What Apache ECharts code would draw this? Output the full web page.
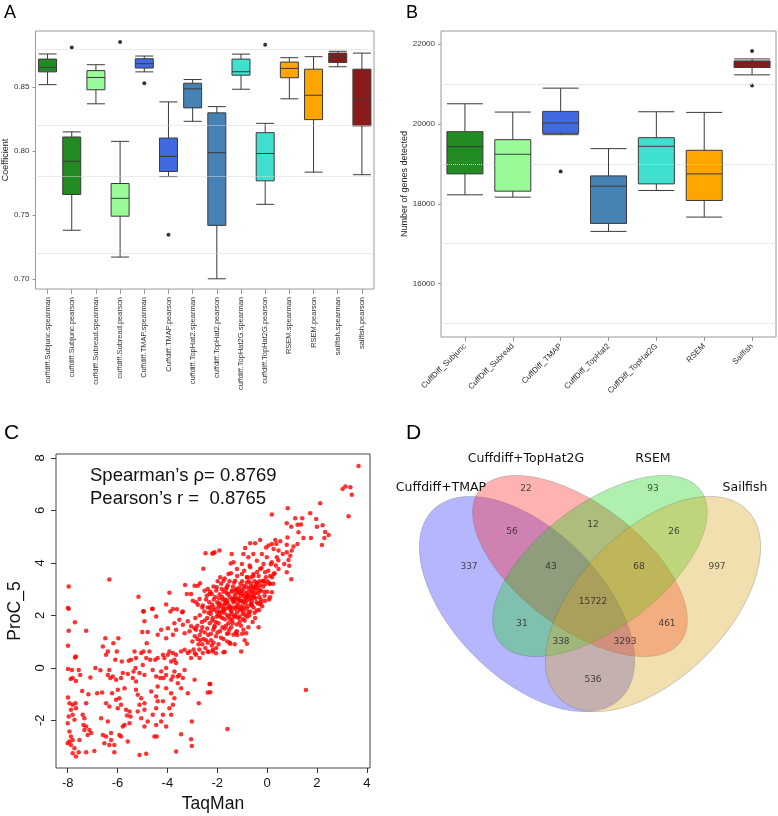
<!DOCTYPE html>
<html><head><meta charset="utf-8">
<script src="https://cdn.jsdelivr.net/npm/echarts@6/dist/echarts.min.js"></script>
<style>html,body{margin:0;padding:0;background:#fff}#c{width:778px;height:816px}</style>
</head><body><div id="c"></div>
<script>
// ---------- Panel A data ----------
const coefCategories = ['cuffdiff.Subjunc.spearman','cuffdiff.Subjunc.pearson','cuffdiff.Subread.spearman','cuffdiff.Subread.pearson','Cuffdiff.TMAP.spearman','Cuffdiff.TMAP.pearson','cuffdiff.TopHat2.spearman','cuffdiff.TopHat2.pearson','cuffdiff.TopHat2G.spearman','cuffdiff.TopHat2G.pearson','RSEM.spearman','RSEM.pearson','sailfish.spearman','sailfish.pearson'];
// [min, Q1, median, Q3, max]
const coefBoxes = [
  [0.852,0.862,0.8655,0.872,0.876],
  [0.738,0.766,0.792,0.811,0.815],
  [0.837,0.848,0.8576,0.863,0.8676],
  [0.717,0.749,0.763,0.7746,0.8076],
  [0.862,0.865,0.8684,0.8723,0.8744],
  [0.780,0.784,0.7958,0.8102,0.8385],
  [0.8233,0.8338,0.8487,0.8531,0.856],
  [0.700,0.7418,0.7987,0.8299,0.8348],
  [0.8484,0.8594,0.8621,0.872,0.8759],
  [0.7583,0.7767,0.7981,0.8144,0.8217],
  [0.8409,0.8574,0.8647,0.8697,0.8731],
  [0.7835,0.8246,0.8437,0.8641,0.8739],
  [0.866,0.8694,0.8736,0.8767,0.8781],
  [0.7815,0.8197,0.8406,0.8641,0.8767]
];
const coefOutliers = [['cuffdiff.Subjunc.pearson',0.881],['cuffdiff.Subread.pearson',0.8854],['Cuffdiff.TMAP.spearman',0.8531],['Cuffdiff.TMAP.pearson',0.7345],['cuffdiff.TopHat2G.pearson',0.8833]];
const coefTicks = [0.70,0.75,0.80,0.85];
const coefGrid = [0.725,0.775,0.825,0.875];

// ---------- Panel B data ----------
const geneCategories = ['CuffDiff_Subjunc','CuffDiff_Subread','CuffDiff_TMAP','CuffDiff_TopHat2','CuffDiff_TopHat2G','RSEM','Sailfish'];
const geneBoxes = [
  [18225,18750,19433,19808,20508],
  [18167,18317,19242,19608,20300],
  [19733,19767,20025,20317,20900],
  [17308,17508,18442,18700,19383],
  [18333,18500,19442,19658,20308],
  [17667,18083,18750,19342,20292],
  [21233,21417,21517,21583,21633]
];
const geneOutliers = [['CuffDiff_TMAP',18808],['Sailfish',21833],['Sailfish',20967]];
const geneTicks = [16000,18000,20000,22000];
const geneGrid = [15000,17000,19000,21000];

// ---------- Panel C data (TaqMan, ProC_5) ----------
const xTicksC = [-8,-6,-4,-2,0,2,4];
const yTicksC = [-2,0,2,4,6,8];
const scatterPoints = [
[-7.96,2.25],[-4.96,2.15],[-4.61,2.24],[-4.92,1.77],[-4.45,1.96],[-3.88,2.15],[-3.41,2.12],[-3.52,1.83],[-3.72,1.7],[-3.65,1.45],
[-3.98,1.51],[-4.25,1.45],[-4.39,1.26],[-4.05,1.13],[-3.78,1.26],[-3.38,1.64],[-3.18,1.77],[-3.05,1.58],[-3.11,1.39],[-3.31,1.32],
[-2.91,1.51],[-7.71,1.74],[-7.96,1.41],[-7.26,1.41],[-7.99,0.84],[-7.71,0.39],[-7.67,0.43],[-6.49,1.13],[-5.97,1.13],[-6.17,0.94],
[-6.59,0.81],[-6.39,0.62],[-6.03,0.62],[-6.09,0.31],[-6.46,0.5],[-5.01,1.36],[-4.79,1.36],[-4.83,0.94],[-4.96,0.62],[-4.85,0.37],
[-4.72,0.62],[-5.32,0.62],[-5.26,0.37],[-5.46,0.31],[-5.55,0.27],[-5.83,0.24],[-5.05,0.56],[-4.99,0.11],[-5.28,-0.01],[-5.36,-0.14],
[-5.12,-0.2],[-4.92,-0.27],[-5.39,-0.39],[-4.69,0.31],[-4.59,-0.08],[-4.49,0.31],[-4.39,0.37],[-4.45,-0.33],[-4.18,0.5],[-4.12,0.37],
[-3.98,0.5],[-4.05,-0.01],[-4.25,-0.14],[-4.29,-0.39],[-4.16,-0.39],[-4.05,-0.27],[-3.92,0.62],[-3.78,0.56],[-3.65,0.5],[-3.72,0.31],
[-3.45,0.62],[-3.31,0.69],[-3.18,0.56],[-3.11,0.62],[-3.05,0.37],[-2.85,0.5],[-2.71,0.37],[-2.58,0.56],[-2.38,0.62],[-2.18,0.69],
[-3.85,0.24],[-3.65,0.18],[-3.72,-0.14],[-3.78,-0.33],[-3.85,-0.46],[-3.58,-0.33],[-3.52,-0.27],[-3.31,-0.08],[-3.38,-0.39],[-3.58,-0.59],
[-3.45,-0.78],[-3.18,-0.97],[-2.91,-0.46],[-2.74,-1.35],[-2.31,-0.62],[-2.38,-0.94],[-7.99,-0.05],[-7.83,-0.08],[-7.56,-0.08],[-7.5,-0.27],
[-7.8,-0.39],[-7.67,-0.5],[-7.88,-0.43],[-7.09,-0.37],[-6.89,-0.01],[-6.69,-0.09],[-6.33,-0.08],[-6.39,-0.27],[-6.29,-0.39],[-6.19,-0.33],
[-6.06,-0.46],[-5.86,-0.39],[-5.79,-0.2],[-5.59,-0.24],[-7.42,-0.88],[-7.17,-1.01],[-7.26,-1.35],[-6.82,-0.97],[-6.62,-0.94],[-6.22,-0.97],
[-5.99,-0.84],[-5.72,-0.78],[-5.93,-1.16],[-6.06,-1.22],[-6.46,-1.35],[-6.33,-1.48],[-5.99,-1.54],[-5.86,-1.41],[-5.66,-1.6],[-5.52,-1.67],
[-5.62,-1.82],[-5.48,-1.86],[-5.52,-2.11],[-5.26,-0.52],[-5.26,-0.84],[-5.19,-1.03],[-5.05,-1.16],[-5.12,-1.41],[-4.92,-1.35],[-4.92,-1.6],
[-5.19,-1.67],[-5.05,-1.92],[-4.79,-2.05],[-4.59,-1.79],[-4.45,-1.54],[-4.39,-1.28],[-4.18,-1.28],[-4.45,-1.09],[-4.65,-0.9],[-4.39,-0.71],
[-4.05,-0.78],[-3.85,-0.97],[-3.72,-1.16],[-3.78,-1.41],[-4.18,-1.79],[-4.25,-2.05],[-4.45,-2.18],[-3.92,-1.54],[-3.85,-1.79],[-4.05,-2.24],
[-4.52,-2.62],[-4.43,-2.62],[-7.99,-1.13],[-7.93,-1.35],[-7.8,-1.41],[-7.69,-1.35],[-7.67,-1.54],[-7.87,-1.6],[-7.8,-1.79],[-7.73,-1.98],
[-7.96,-1.86],[-8.0,-2.11],[-7.93,-2.43],[-7.87,-2.62],[-7.8,-2.75],[-8.0,-2.88],[-7.87,-2.94],[-7.73,-3.07],[-7.8,-3.26],[-7.67,-3.38],
[-7.56,-3.22],[-7.93,-2.81],[-7.4,-1.79],[-7.33,-1.92],[-7.37,-2.18],[-7.26,-2.24],[-7.13,-2.37],[-7.06,-2.49],[-7.2,-2.56],[-7.33,-2.37],
[-7.53,-2.75],[-7.26,-3.22],[-6.93,-3.17],[-6.66,-1.92],[-6.39,-2.05],[-6.59,-2.56],[-6.46,-2.62],[-6.26,-2.49],[-6.53,-2.88],[-6.33,-2.94],
[-6.13,-2.94],[-6.26,-2.75],[-5.93,-2.56],[-5.79,-2.24],[-5.72,-2.18],[-5.86,-2.62],[-5.59,-2.81],[-6.13,-3.22],[-5.12,-3.32],[-4.85,-3.28],
[-4.92,-2.24],[-3.65,-3.19],[-3.45,-2.53],[-3.02,-2.05],[-3.05,-2.72],[-3.02,-2.98],[1.56,-0.85],[-1.59,-2.33],
[-0.48,1.9],[-0.34,1.55],[-0.84,1.32],[-0.95,1.45],[-0.81,0.92],[-1.04,0.62],[-1.48,0.92],[-1.75,0.59],[-2.18,0.62],[-2.04,0.75],
[-2.28,-0.62],[-2.28,-0.93],[-1.35,1.26],[-1.21,1.39],[-1.55,1.32],
[3.67,7.69],[3.03,6.82],[3.14,6.91],[3.34,6.88],[3.4,6.6],[3.27,5.78],[2.13,6.27],[1.73,5.89],[1.97,5.67],[0.83,6.08],
[0.19,5.84],[1.13,5.7],[1.41,5.7],[0.79,5.51],[0.97,5.38],[1.22,5.45],[1.36,5.46],[1.26,5.17],[2.0,5.38],[2.23,5.43],
[2.33,5.18],[2.47,5.06],[2.3,4.95],[1.76,4.95],[1.46,4.95],[2.2,4.68],[0.82,4.97],[0.53,4.82],[0.33,4.87],[0.19,4.72],
[0.06,4.66],[-0.28,4.87],[-0.48,4.75],[-0.04,4.59],[0.37,4.72],[0.79,4.69],[1.06,4.62],[1.22,4.72],[0.99,4.47],[0.79,4.4],
[0.93,4.27],[0.86,4.11],[0.69,3.96],[0.89,3.89],[0.79,3.64],[0.97,3.38],[0.63,4.34],[0.46,4.47],[0.26,4.53],[0.39,4.21],
[0.19,4.02],[0.46,3.77],[0.26,3.58],[0.12,3.2],[0.19,2.88],[0.12,2.69],[-0.88,4.57],[-0.68,4.75],[-0.95,4.34],[-1.42,4.34],
[-1.46,3.98],[-1.35,4.02],[-1.91,4.47],[-2.15,4.37],[-1.21,3.77],[-1.01,3.96],[-0.75,4.21],[-0.55,4.34],[-0.41,4.08],[-0.21,4.34],
[-0.14,3.96],[-0.01,4.21],[-0.28,3.77],[-0.08,3.64],[-0.68,3.83],[-0.55,3.58],[-0.81,3.45],[-1.01,3.58],[-1.28,3.32],[-1.55,3.58],
[-1.75,3.32],[-1.88,3.45],[-2.02,3.07],[-2.22,2.81],[-1.62,3.07],[-1.21,2.94],[-0.95,3.13],[-0.68,3.07],[-0.41,3.2],[-0.14,3.32],
[-0.28,2.94],[-0.55,2.75],[-0.81,2.69],[-1.08,2.56],[-1.35,2.62],[-1.68,2.56],[-1.95,2.43],[-2.15,2.3],[-1.48,2.3],[-1.01,2.24],
[-0.61,2.37],[-0.28,2.43],[-0.08,2.56],[-0.41,2.18],[-0.75,2.11],[-1.21,2.11],[-1.75,2.18],
[-7.96,3.1],[-6.33,3.37],[-7.99,2.28],[-5.16,2.71],[-4.96,2.16],[-4.59,2.25],[-4.05,2.41],[-3.92,2.86],[-3.78,2.24],[-3.62,2.23],
[-3.38,2.15],[-3.29,3.16],[-3.22,2.81],[-3.05,2.81],[-2.91,3.13],[-2.78,3.13],[-2.69,3.22],[-2.56,3.78],[-2.47,4.37],[-2.2,4.36],
[-2.11,4.4],[-2.98,2.56],[-2.85,2.5],[-2.71,2.62],[-2.51,2.94],[-2.38,3.0],[-2.31,2.81],[-2.58,2.37],[-2.38,2.3],[-2.24,2.18],
[-2.9,1.2],[-2.8,1.6],[-2.75,0.9],[-2.7,2.0],[-2.65,1.4],[-2.6,2.3],[-2.55,1.1],[-2.5,1.8],[-2.45,2.6],[-2.4,1.5],
[-2.38,0.95],[-2.35,2.1],[-2.3,1.7],[-2.28,2.9],[-2.25,1.3],[-2.2,2.4],[-2.18,1.9],[-2.15,3.1],[-2.12,1.55],[-2.1,2.2],
[-2.08,2.7],[-2.05,1.2],[-2.02,1.95],[-2.0,2.5],[-1.98,3.3],[-1.95,1.7],[-1.92,2.15],[-1.9,2.8],[-1.88,1.4],[-1.85,2.35],
[-1.82,3.0],[-1.8,1.9],[-1.78,2.6],[-1.75,1.1],[-1.72,2.1],[-1.7,3.4],[-1.68,2.45],[-1.65,1.6],[-1.62,2.85],[-1.6,2.0],
[-1.58,3.15],[-1.55,2.3],[-1.52,1.45],[-1.5,2.7],[-1.48,1.85],[-1.45,3.6],[-1.42,2.15],[-1.4,2.95],[-1.38,1.7],[-1.35,2.5],
[-1.32,3.25],[-1.3,2.0],[-1.28,2.8],[-1.25,1.35],[-1.22,2.35],[-1.2,3.5],[-1.18,2.65],[-1.15,1.9],[-1.12,3.05],[-1.1,2.2],
[-1.08,2.9],[-1.05,1.6],[-1.02,2.55],[-1.0,3.3],[-0.98,2.05],[-0.95,2.75],[-0.92,3.7],[-0.9,1.8],[-0.88,2.45],[-0.85,3.1],
[-0.82,2.25],[-0.8,3.45],[-0.78,2.85],[-0.75,1.55],[-0.72,2.6],[-0.7,3.9],[-0.68,2.15],[-0.65,3.2],[-0.62,2.4],[-0.6,2.95],
[-0.58,1.75],[-0.55,3.5],[-0.52,2.7],[-0.5,2.1],[-0.45,3.0],[-0.42,2.5],[-0.4,3.65],[-0.35,2.85],[-0.32,2.2],[-0.3,3.3],
[-0.25,2.6],[-0.22,3.8],[-0.2,2.35],[-0.15,3.1],[-0.1,2.75],[-0.05,3.45],[0.0,2.9],[0.05,3.7],[0.1,3.2],[0.15,3.95],
[0.2,3.45],[0.3,3.6],[0.35,3.9],[0.45,4.1],
[-2.95,0.7],[-2.88,1.9],[-2.78,2.4],[-2.68,1.05],[-2.62,1.75],[-2.52,2.15],[-2.48,0.75],[-2.42,2.75],[-2.36,1.25],[-2.32,2.5],
[-2.26,2.05],[-2.22,0.85],[-2.16,1.45],[-2.14,2.6],[-2.06,1.75],[-2.04,2.95],[-1.99,1.35],[-1.96,2.3],[-1.93,2.65],[-1.87,1.95],
[-1.84,3.2],[-1.79,1.55],[-1.77,2.25],[-1.74,2.9],[-1.69,1.85],[-1.67,2.6],[-1.64,3.0],[-1.61,1.3],[-1.57,2.45],[-1.54,1.95],
[-1.51,3.3],[-1.47,2.2],[-1.44,1.55],[-1.41,2.6],[-1.37,3.1],[-1.34,1.95],[-1.31,2.7],[-1.27,2.25],[-1.24,3.0],[-1.21,1.65],
[-1.17,2.45],[-1.14,2.85],[-1.11,1.95],[-1.07,3.2],[-1.04,2.35],[-1.01,2.85],[-0.97,1.85],[-0.94,3.0],[-0.91,2.6],[-0.87,2.0],
[-0.84,2.7],[-0.81,3.25],[-0.77,2.35],[-0.74,3.0],[-0.71,2.0],[-0.67,2.75],[-0.64,3.45],[-0.61,2.55],[-0.57,3.1],[-0.54,2.3],
[-0.51,3.3],[-0.47,2.65],[-0.44,3.15],[-0.37,2.45],[-0.34,3.5],[-0.27,2.95],[-0.24,2.5],[-0.17,3.3],[-0.12,2.9],[-0.07,3.2],
[0.02,3.3],[0.08,2.6],[0.12,3.5],[0.25,3.2],
[-2.0,2.1],[-1.9,2.45],[-1.85,2.1],[-1.8,2.7],[-1.72,2.4],[-1.66,2.25],[-1.6,2.55],[-1.56,2.8],[-1.5,2.35],[-1.45,2.05],
[-1.43,2.9],[-1.36,2.3],[-1.33,2.55],[-1.26,2.95],[-1.23,2.6],[-1.16,2.3],[-1.13,2.6],[-1.06,2.75],[-1.03,2.95],[-0.96,2.5],
[-0.93,2.3],[-0.86,2.85],[-0.83,2.55],[-0.76,2.75],[-0.73,3.3],[-0.66,2.9],[-0.63,2.65],[-0.56,2.85],[-0.53,3.05],[-0.46,2.85],
[-0.41,3.25],[-0.36,3.05],[-0.31,2.7],[-0.26,3.15],[-1.95,2.0],[-2.1,1.6],[-2.2,1.8],[-2.3,2.3],[-2.4,1.9],[-2.5,1.35],
[-2.6,1.55],[-2.7,1.25],[-2.85,1.45],[-1.7,1.5],[-1.55,1.7],[-1.4,1.8],[-1.25,1.95],[-1.1,1.75],[-0.95,2.15],[-0.8,1.95],
[-0.65,2.45],
[-3.0,1.0],[-2.9,0.55],[-2.8,1.1],[-2.72,0.7],[-2.6,0.9],[-2.45,1.05],[-2.35,0.6],[-2.25,1.05],[-2.15,0.95],[-2.05,0.55],
[-1.95,0.9],[-1.85,1.15],[-1.7,0.6],[-1.6,1.0],[-1.5,0.95],[-1.3,0.9],[-1.2,1.25],[-1.0,1.3],[-0.9,1.05]
];
const statLines = ["Spearman\u2019s \u03c1= 0.8769", "Pearson\u2019s r =  0.8765"];

// ---------- Panel D data ----------
const vennSets = ['Cuffdiff+TMAP','Cuffdiff+TopHat2G','RSEM','Sailfish'];
const vennCounts = [337,22,93,997,56,12,26,43,68,15722,31,461,338,3293,536];

// ---------- Layout (pixels) ----------
const vennSetColors = ['rgba(40,40,255,0.34)','rgba(255,30,30,0.34)','rgba(20,210,20,0.34)','rgba(218,165,32,0.36)'];
const vennShapeLayout = [
  {cx:527, cy:604, a:133, b:74, deg:45},
  {cx:580, cy:566, a:126, b:62, deg:37},
  {cx:600, cy:566, a:126, b:62, deg:-37},
  {cx:653, cy:604, a:133, b:74, deg:-45}
];
const vennNamePos = [[441,488],[526,459],[653,459],[745,488]];
const vennCountPos = [[469,567],[526,489],[653,489],[717,567],[512,532],[593,525],[674,532],[551,567],[639,567],[593,602],[522,624],[667,624],[561,642],[625,642],[593,680]];

const boxColorsA = ['#228B22','#228B22','#98FB98','#98FB98','#4169E1','#4169E1','#4682B4','#4682B4','#40E0D0','#40E0D0','#FFA500','#FFA500','#8B1A1A','#8B1A1A'];
const boxColorsB = ['#228B22','#98FB98','#4169E1','#4682B4','#40E0D0','#FFA500','#8B1A1A'];

function ellipsePoints(e) {
  const pts = [], r = e.deg * Math.PI / 180, c = Math.cos(r), s = Math.sin(r);
  for (let i = 0; i < 120; i++) {
    const t = i / 120 * 2 * Math.PI;
    const u = e.a * Math.cos(t), v = e.b * Math.sin(t);
    pts.push([e.cx + u * c - v * s, e.cy + u * s + v * c]);
  }
  return pts;
}

const chart = echarts.init(document.getElementById('c'), null, {renderer: 'canvas'});
const F = 'Liberation Sans, Arial, sans-serif';
const gridLine = vals => ({silent: true, symbol: 'none', label: {show: false}, lineStyle: {type: 'dotted', color: '#d8d8d8', width: 1}, data: vals.map(v => ({yAxis: v}))});

const graphics = [
  {type: 'text', style: {text: 'A', x: 4, y: 4, font: '18px ' + F, fill: '#000'}},
  {type: 'text', style: {text: 'B', x: 406, y: 4, font: '18px ' + F, fill: '#000'}},
  {type: 'text', style: {text: 'C', x: 4, y: 423, font: '21px ' + F, fill: '#000'}},
  {type: 'text', style: {text: 'D', x: 406, y: 423, font: '21px ' + F, fill: '#000'}},
  {type: 'text', z: 5, style: {text: statLines[0], x: 90, y: 476, font: '18.5px ' + F, fill: '#111', verticalAlign: 'middle'}},
  {type: 'text', z: 5, style: {text: statLines[1], x: 90, y: 499, font: '18.5px ' + F, fill: '#111', verticalAlign: 'middle'}}
];
vennShapeLayout.forEach((e, i) => graphics.push({type: 'polygon', z: 1, shape: {points: ellipsePoints(e)}, style: {fill: vennSetColors[i], stroke: 'rgba(90,90,90,0.35)', lineWidth: 0.8}}));
vennSets.forEach((n, i) => graphics.push({type: 'text', z: 3, style: {text: n, x: vennNamePos[i][0], y: vennNamePos[i][1], font: '12.5px DejaVu Sans', fill: '#111', align: 'center', verticalAlign: 'middle'}}));

const option = {
  animation: false,
  backgroundColor: '#fff',
  graphic: graphics,
  grid: [
    {left: 32, top: 31, width: 342, height: 258, show: true, borderColor: '#9a9a9a', borderWidth: 1},
    {left: 441, top: 31, width: 335, height: 306, show: true, borderColor: '#9a9a9a', borderWidth: 1},
    {left: 56, top: 454, width: 314, height: 314, show: true, borderColor: '#444', borderWidth: 1},
    {left: 0, top: 0, width: 778, height: 816}
  ],
  xAxis: [
    {type: 'category', gridIndex: 0, data: coefCategories, axisLine: {show: false, onZero: false},
     axisTick: {show: true, alignWithLabel: true, length: 5, lineStyle: {color: '#999'}},
     axisLabel: {rotate: 90, interval: 0, fontSize: 7.5, color: '#333', margin: 8, fontFamily: F}},
    {type: 'category', gridIndex: 1, data: geneCategories, axisLine: {show: false, onZero: false},
     axisTick: {show: true, alignWithLabel: true, length: 4, lineStyle: {color: '#999'}},
     axisLabel: {rotate: 45, interval: 0, fontSize: 8, color: '#333', margin: 8, fontFamily: F}},
    {type: 'value', gridIndex: 2, min: -8.47, max: 4.13, axisLine: {show: false, onZero: false}, splitLine: {show: false},
     axisTick: {show: true, length: 5, customValues: xTicksC, lineStyle: {color: '#333'}},
     axisLabel: {customValues: xTicksC, fontSize: 13, color: '#111', margin: 9, fontFamily: F},
     name: 'TaqMan', nameLocation: 'middle', nameGap: 27, nameTextStyle: {fontSize: 17.5, color: '#111', fontFamily: F}},
    {type: 'value', gridIndex: 3, min: 0, max: 778, show: false}
  ],
  yAxis: [
    {type: 'value', gridIndex: 0, min: 0.692, max: 0.894, axisLine: {show: false, onZero: false}, splitLine: {show: false},
     axisTick: {show: true, length: 3, customValues: coefTicks, lineStyle: {color: '#999'}},
     axisLabel: {customValues: coefTicks, fontSize: 8, color: '#333', margin: 6, fontFamily: F, formatter: v => v.toFixed(2)},
     name: 'Coefficient', nameLocation: 'middle', nameGap: 23, nameTextStyle: {fontSize: 9, color: '#222', fontFamily: F}},
    {type: 'value', gridIndex: 1, min: 14660, max: 22333, axisLine: {show: false, onZero: false}, splitLine: {show: false},
     axisTick: {show: true, length: 3, customValues: geneTicks, lineStyle: {color: '#999'}},
     axisLabel: {customValues: geneTicks, fontSize: 8, color: '#333', margin: 6, fontFamily: F, formatter: v => String(v)},
     name: 'Number of genes detected', nameLocation: 'middle', nameGap: 30, nameTextStyle: {fontSize: 9, color: '#222', fontFamily: F}},
    {type: 'value', gridIndex: 2, min: -3.82, max: 8.15, axisLine: {show: false, onZero: false}, splitLine: {show: false},
     axisTick: {show: true, length: 5, customValues: yTicksC, lineStyle: {color: '#333'}},
     axisLabel: {customValues: yTicksC, rotate: 90, fontSize: 13, color: '#111', margin: 9, fontFamily: F},
     name: 'ProC_5', nameLocation: 'middle', nameGap: 32, nameTextStyle: {fontSize: 17.5, color: '#111', fontFamily: F}},
    {type: 'value', gridIndex: 3, min: 0, max: 816, inverse: true, show: false}
  ],
  series: [
    {type: 'boxplot', xAxisIndex: 0, yAxisIndex: 0, boxWidth: [18, 18],
     data: coefBoxes.map((b, i) => ({value: b, itemStyle: {color: boxColorsA[i], borderColor: '#3a3a3a', borderWidth: 1}})),
     markLine: gridLine(coefGrid)},
    {type: 'scatter', xAxisIndex: 0, yAxisIndex: 0, symbolSize: 4, itemStyle: {color: '#000'}, data: coefOutliers},
    {type: 'boxplot', xAxisIndex: 1, yAxisIndex: 1, boxWidth: [36, 36],
     data: geneBoxes.map((b, i) => ({value: b, itemStyle: {color: boxColorsB[i], borderColor: '#3a3a3a', borderWidth: 1}})),
     markLine: gridLine(geneGrid)},
    {type: 'scatter', xAxisIndex: 1, yAxisIndex: 1, symbolSize: 4, itemStyle: {color: '#000'}, data: geneOutliers},
    {type: 'scatter', xAxisIndex: 2, yAxisIndex: 2, symbolSize: 4.5, itemStyle: {color: '#ff0000'}, data: scatterPoints},
    {type: 'scatter', xAxisIndex: 3, yAxisIndex: 3, z: 10, symbolSize: 2, itemStyle: {color: 'rgba(0,0,0,0)'},
     data: vennCounts.map((c, i) => [vennCountPos[i][0], vennCountPos[i][1], c]),
     label: {show: true, position: 'inside', formatter: p => String(p.value[2]), fontSize: 9, color: '#222', fontFamily: 'DejaVu Sans'}}
  ]
};
chart.setOption(option);
</script></body></html>
